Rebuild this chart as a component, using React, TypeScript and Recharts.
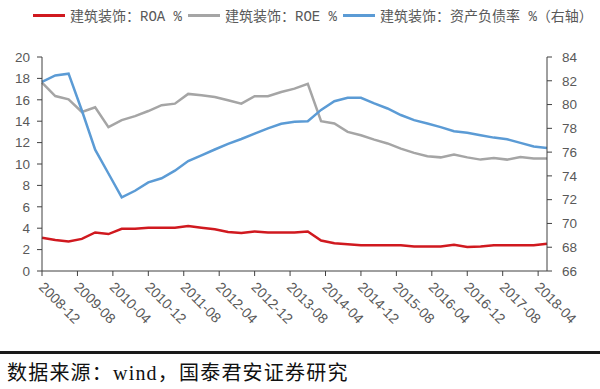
import React from "react";
import { Legend, Line, LineChart, XAxis, YAxis } from "recharts";

// quarterly reporting dates
const dates = [
  "2008-12",
  "2009-03", "2009-06", "2009-09", "2009-12",
  "2010-03", "2010-06", "2010-09", "2010-12",
  "2011-03", "2011-06", "2011-09", "2011-12",
  "2012-03", "2012-06", "2012-09", "2012-12",
  "2013-03", "2013-06", "2013-09", "2013-12",
  "2014-03", "2014-06", "2014-09", "2014-12",
  "2015-03", "2015-06", "2015-09", "2015-12",
  "2016-03", "2016-06", "2016-09", "2016-12",
  "2017-03", "2017-06", "2017-09", "2017-12",
  "2018-03", "2018-06",
];

const roa = [
  3.1, 2.9, 2.75, 3.0, 3.6, 3.45, 3.95, 3.95, 4.05, 4.05,
  4.05, 4.2, 4.05, 3.9, 3.65, 3.55, 3.7, 3.6, 3.6, 3.6,
  3.7, 2.85, 2.6, 2.5, 2.4, 2.4, 2.4, 2.4, 2.3, 2.3,
  2.3, 2.45, 2.25, 2.3, 2.4, 2.4, 2.4, 2.4, 2.55,
];

const roe = [
  17.6, 16.35, 16.05, 14.86, 15.3, 13.45, 14.1, 14.47, 14.95, 15.5,
  15.64, 16.55, 16.42, 16.26, 15.95, 15.64, 16.33, 16.33, 16.73, 17.04,
  17.5, 14.0, 13.78, 13.0, 12.68, 12.28, 11.92, 11.44, 11.04, 10.72,
  10.62, 10.88, 10.62, 10.41, 10.55, 10.41, 10.65, 10.52, 10.52,
];

const debtRatio = [
  81.9, 82.45, 82.6, 79.5, 76.2, 74.2, 72.2, 72.75, 73.45, 73.8,
  74.44, 75.25, 75.73, 76.22, 76.7, 77.1, 77.55, 78.0, 78.38, 78.55,
  78.6, 79.55, 80.28, 80.57, 80.57, 80.1, 79.67, 79.12, 78.69, 78.4,
  78.1, 77.76, 77.62, 77.42, 77.22, 77.08, 76.78, 76.47, 76.35,
];

const xTickLabels = [
  "2008-12", "2009-08", "2010-04", "2010-12", "2011-08", "2012-04", "2012-12", "2013-08",
  "2014-04", "2014-12", "2015-08", "2016-04", "2016-12", "2017-08", "2018-04",
];

const leftTicks = [0, 2, 4, 6, 8, 10, 12, 14, 16, 18, 20];
const rightTicks = [66, 68, 70, 72, 74, 76, 78, 80, 82, 84];

// months since 2008-12, so the axis is a real date axis
const toMonth = (d: string) => {
  const [y, m] = d.split("-").map(Number);
  return (y - 2008) * 12 + m - 12;
};
const monthToLabel: Record<number, string> = {};
xTickLabels.forEach((l) => (monthToLabel[toMonth(l)] = l));

const data = dates.map((d, i) => ({
  t: toMonth(d),
  roa: roa[i],
  roe: roe[i],
  debt: debtRatio[i],
}));

const axisColor = "#404040";
const textColor = "#595959";

const XTick = (props: any) => {
  const { x, y, payload } = props;
  return (
    <g transform={`translate(${x + 3},${y})`}>
      <text x={0} y={0} dy={10} transform="rotate(45)" textAnchor="start" fill={textColor} fontSize={14}>
        {monthToLabel[payload.value]}
      </text>
    </g>
  );
};

const renderLegend = (props: any) => {
  const { payload } = props;
  return (
    <div
      style={{
        height: 44,
        width: 600,
        boxSizing: "border-box",
        paddingTop: 6,
        paddingLeft: 33,
        display: "flex",
        justifyContent: "flex-start",
        fontSize: 14,
        color: textColor,
        fontFamily: "'Liberation Mono', 'Noto Sans CJK SC', monospace",
      }}
    >
      {payload.map((entry: any) => (
        <span
          key={entry.value}
          style={{ display: "inline-flex", alignItems: "center", marginRight: 6, height: 18, whiteSpace: "pre" }}
        >
          <span
            style={{ display: "inline-block", width: 32, height: 3, background: entry.color, marginRight: 5 }}
          />
          {entry.value}
        </span>
      ))}
    </div>
  );
};

export default function App() {
  return (
    <div
      style={{
        position: "absolute",
        left: 0,
        top: 0,
        width: 600,
        height: 389,
        background: "#fff",
        fontFamily: "'Liberation Sans', 'Noto Sans CJK SC', sans-serif",
        overflow: "hidden",
      }}
    >
      <LineChart width={600} height={345} data={data} margin={{ top: 13, right: 7, left: 5, bottom: 14 }}>
        <Legend verticalAlign="top" content={renderLegend} wrapperStyle={{ top: 0, left: 0, width: 600 }} />
        <XAxis
          dataKey="t"
          type="number"
          domain={[0, 114]}
          ticks={xTickLabels.map(toMonth)}
          interval={0}
          height={60}
          tickSize={5}
          tickMargin={5}
          tick={<XTick />}
          stroke={axisColor}
        />
        <YAxis
          yAxisId="left"
          domain={[0, 20]}
          ticks={leftTicks}
          interval={0}
          width={37}
          tickSize={5}
          tickMargin={7}
          stroke={axisColor}
          tick={{ fill: textColor, fontSize: 13.5 }}
        />
        <YAxis
          yAxisId="right"
          orientation="right"
          domain={[66, 84]}
          ticks={rightTicks}
          interval={0}
          width={46}
          tickSize={5}
          tickMargin={10}
          stroke={axisColor}
          tick={{ fill: textColor, fontSize: 13.5, textAnchor: "start" }}
        />
        <Line
          yAxisId="left"
          dataKey="roa"
          name="建筑装饰：ROA %"
          stroke="#D0191F"
          strokeWidth={2.5}
          dot={false}
          isAnimationActive={false}
        />
        <Line
          yAxisId="left"
          dataKey="roe"
          name="建筑装饰：ROE %"
          stroke="#A5A5A5"
          strokeWidth={2.5}
          dot={false}
          isAnimationActive={false}
        />
        <Line
          yAxisId="right"
          dataKey="debt"
          name="建筑装饰：资产负债率 %（右轴）"
          stroke="#5B9BD5"
          strokeWidth={2.5}
          dot={false}
          isAnimationActive={false}
        />
      </LineChart>
      <div style={{ position: "absolute", left: 0, top: 351, width: 600, height: 2.5, background: "#1a1a1a" }} />
      <div
        style={{
          position: "absolute",
          left: 7,
          top: 362,
          fontSize: 20,
          lineHeight: "22px",
          letterSpacing: 1.2,
          color: "#111",
          fontFamily: "'Liberation Serif', 'Noto Sans CJK SC', serif",
          whiteSpace: "nowrap",
        }}
      >
        数据来源：wind，国泰君安证券研究
      </div>
    </div>
  );
}
